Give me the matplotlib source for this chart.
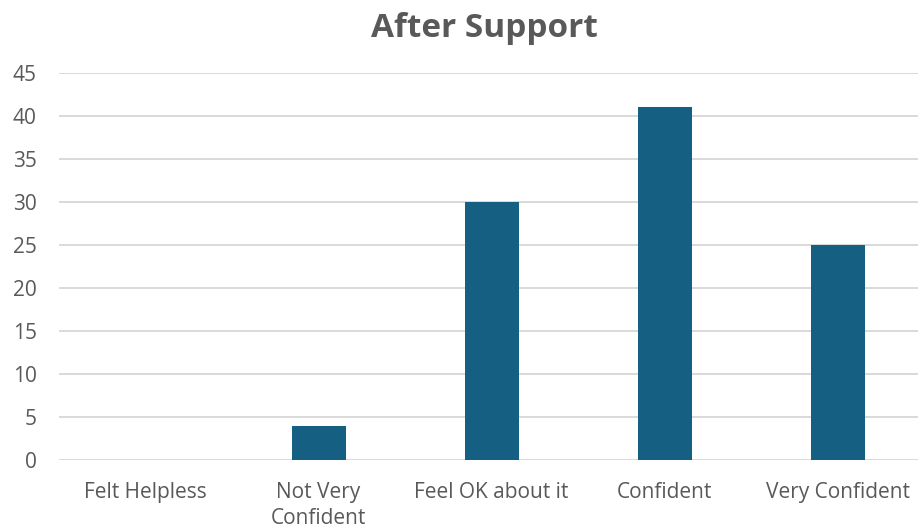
import matplotlib.pyplot as plt
import numpy as np

plt.rcParams['font.family'] = ['Open Sans', 'DejaVu Sans']

categories = ['Felt Helpless', 'Not Very\nConfident', 'Feel OK about it', 'Confident', 'Very Confident']
counts = [0, 4, 30, 41, 25]
yticks = list(range(0, 50, 5))

text_color = '#595959'
bar_color = '#156082'
grid_color = '#d9d9d9'

fig = plt.figure(figsize=(9.18, 5.26), dpi=100)
ax = fig.add_axes([0.0643, 0.1255, 0.9423, 0.7357])

x = np.arange(len(categories))
ax.bar(x, counts, width=0.312, color=bar_color, zorder=3)

ax.set_xlim(-0.5, len(categories) - 0.5)
ax.set_ylim(0, 45)
ax.set_yticks(yticks)
ax.set_xticks(x)
ax.set_xticklabels(categories, linespacing=1.3)

ax.grid(axis='y', color=grid_color, linewidth=1.4, zorder=0)
for side in ['top', 'right', 'left', 'bottom']:
    ax.spines[side].set_visible(False)
ax.tick_params(axis='both', length=0, labelsize=15, labelcolor=text_color)
ax.tick_params(axis='x', pad=16)
ax.tick_params(axis='y', pad=16)

fig.text(0.528, 0.945, 'After Support', ha='center', va='center',
         fontsize=24, fontweight='bold', color=text_color)

fig.savefig('out.png', dpi=100)
